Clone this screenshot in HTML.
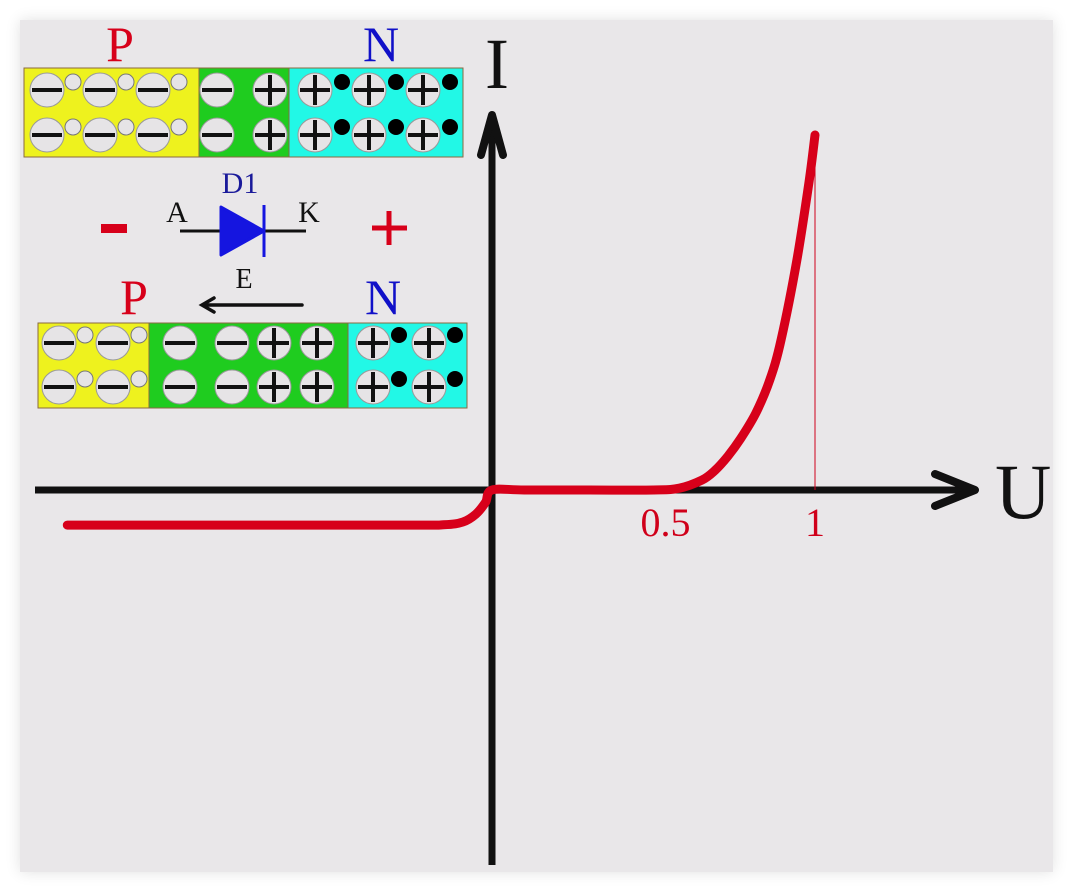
<!DOCTYPE html>
<html><head><meta charset="utf-8"><style>
html,body{margin:0;padding:0;background:#fff;width:1073px;height:892px;overflow:hidden}
#card{position:absolute;left:20px;top:20px;width:1033px;height:852px;background:#e9e7e9;box-shadow:0 0 14px rgba(0,0,0,0.12)}
svg{position:absolute;left:0;top:0}
text{font-family:"Liberation Serif","Times New Roman",serif}
</style></head><body>
<div id="card"></div>
<svg id="s" width="1073" height="892" viewBox="0 0 1073 892">
  <g id="diagram"></g>
  <g id="chart"></g>
</svg>
<script>
// ---- chart data ----
const uValues = [-1.315, -0.3, -0.15, -0.09, -0.05, -0.02, 0, 0.1, 0.3, 0.5, 0.58, 0.65, 0.69, 0.73, 0.77, 0.817, 0.86, 0.895, 0.944, 0.981, 1.0];
const iValues = [-0.099, -0.099, -0.098, -0.09, -0.068, -0.035, 0, 0, 0, 0, 0.005, 0.028, 0.055, 0.095, 0.145, 0.217, 0.31, 0.423, 0.648, 0.865, 1.0];
const xTickValues = [0.5, 1];
const xTickLabels = ["0.5", "1"];

const NS = "http://www.w3.org/2000/svg";
function mk(tag, attrs, parent, txt){
  const e = document.createElementNS(NS, tag);
  for (const k in attrs) e.setAttribute(k, attrs[k]);
  if (txt !== undefined) e.textContent = txt;
  parent.appendChild(e); return e;
}
const xS = u => 492 + u * 323;
const yS = i => 490 - i * 355;

const chart = document.getElementById('chart');
let ax = mk('line', {x1:35, y1:490, x2:965, y2:490, stroke:'#111', 'stroke-width':7}, chart);


let ah = mk('path', {d:'M935,474 L975,490 L935,506', fill:'none', stroke:'#111', 'stroke-width':8, 'stroke-linecap':'round', 'stroke-linejoin':'round'}, chart);


let ay = mk('line', {x1:492, y1:865, x2:492, y2:120, stroke:'#111', 'stroke-width':7}, chart);


let ayh = mk('path', {d:'M481,155 L492,115 L503,155', fill:'none', stroke:'#111', 'stroke-width':8, 'stroke-linecap':'round', 'stroke-linejoin':'round'}, chart);


let tU = mk('text', {x:995, y:518, 'font-size':78, fill:'#111'}, chart, 'U');


let tI = mk('text', {x:485, y:88, 'font-size':72, fill:'#111'}, chart, 'I');


let dl = mk('line', {x1:xS(1), y1:yS(iValues[iValues.length-1]), x2:xS(1), y2:490, stroke:'#d0001a', 'stroke-width':1}, chart);


xTickValues.forEach((v, k) => {
  const t = mk('text', {x:xS(v) + (v===0.5?12:0), y:536, 'font-size':40, fill:'#d0001a', 'text-anchor':'middle'}, chart, xTickLabels[k]);
  
  
});
const pts = uValues.map((u, k) => [xS(u), yS(iValues[k])]);
let d = 'M' + pts[0][0].toFixed(1) + ',' + pts[0][1].toFixed(1);
for (let k = 0; k < pts.length - 1; k++) {
  const p0 = pts[Math.max(0, k-1)], p1 = pts[k], p2 = pts[k+1], p3 = pts[Math.min(pts.length-1, k+2)];
  const c1 = [p1[0] + (p2[0]-p0[0])/6, p1[1] + (p2[1]-p0[1])/6];
  const c2 = [p2[0] - (p3[0]-p1[0])/6, p2[1] - (p3[1]-p1[1])/6];
  d += ' C' + c1.map(v=>v.toFixed(1)).join(',') + ' ' + c2.map(v=>v.toFixed(1)).join(',') + ' ' + p2.map(v=>v.toFixed(1)).join(',');
}
let cv = mk('path', {d:d, fill:'none', stroke:'#d7001a', 'stroke-width':9, 'stroke-linecap':'round', 'stroke-linejoin':'round'}, chart);



// ---- diagram ----
const dg = document.getElementById('diagram');
function rect(x, y, w, h, fill, name){
  const r = mk('rect', {x:x, y:y, width:w, height:h, fill:fill, stroke:'#8a6a40', 'stroke-width':1}, dg);
  
  
}
function ion(cx, cy, plus){
  const g = mk('g', {}, dg);
  
  
  mk('circle', {cx:cx, cy:cy, r:17, fill:'#e6e4e6', stroke:'#999', 'stroke-width':1}, g);
  mk('line', {x1:cx-15, y1:cy, x2:cx+15, y2:cy, stroke:'#111', 'stroke-width':4}, g);
  if (plus) mk('line', {x1:cx, y1:cy-15, x2:cx, y2:cy+15, stroke:'#111', 'stroke-width':4}, g);
}
function hole(cx, cy){
  const c = mk('circle', {cx:cx, cy:cy, r:8, fill:'#e6e4e6', stroke:'#777', 'stroke-width':1}, dg);
  
  
}
function elec(cx, cy){
  const c = mk('circle', {cx:cx, cy:cy, r:8, fill:'#000'}, dg);
  
  
}
function label(x, y, s, col, size, name){
  const t = mk('text', {x:x, y:y, 'font-size':size, fill:col, 'text-anchor':'middle'}, dg, s);
  
  
}
rect(24, 68, 175, 89, '#eef21e', 'top-p-region');
rect(199, 68, 90, 89, '#1fcc1f', 'top-depletion-region');
rect(289, 68, 174, 89, '#22f8e6', 'top-n-region');
[90, 135].forEach(cy => {
  [47, 100, 153].forEach(cx => { ion(cx, cy, false); hole(cx + 26, cy - 8); });
  ion(217, cy, false); ion(270, cy, true);
  [315, 369, 423].forEach(cx => { ion(cx, cy, true); elec(cx + 27, cy - 8); });
});
label(120, 61, 'P', '#d7001a', 50, 'top-p-label');
label(381, 61, 'N', '#1010c8', 50, 'top-n-label');
let w = mk('line', {x1:180, y1:231, x2:306, y2:231, stroke:'#111', 'stroke-width':3}, dg);


let tri = mk('path', {d:'M221,207 L264,231 L221,255 Z', fill:'#1515e0', stroke:'#1515e0', 'stroke-width':3, 'stroke-linejoin':'round'}, dg);


let bar = mk('line', {x1:264, y1:205, x2:264, y2:257, stroke:'#1515e0', 'stroke-width':3}, dg);


label(240, 193, 'D1', '#1a1a9a', 30, 'diode-name-label');
label(177, 222, 'A', '#111', 30, 'anode-label');
label(309, 222, 'K', '#111', 30, 'cathode-label');
let mn = mk('rect', {x:101, y:224, width:26, height:9, fill:'#d7001a'}, dg);


let pl = mk('path', {d:'M372,228 L407,228 M389,211 L389,245', stroke:'#d7001a', 'stroke-width':5}, dg);


label(244, 288, 'E', '#111', 28, 'field-label');
let ar = mk('path', {d:'M302,305 L202,305 M214,298 L202,305 L214,312', fill:'none', stroke:'#111', 'stroke-width':3.5, 'stroke-linecap':'round'}, dg);


label(134, 314, 'P', '#d7001a', 50, 'bottom-p-label');
label(383, 314, 'N', '#1010c8', 50, 'bottom-n-label');
rect(38, 323, 111, 85, '#eef21e', 'bottom-p-region');
rect(149, 323, 199, 85, '#1fcc1f', 'bottom-depletion-region');
rect(348, 323, 119, 85, '#22f8e6', 'bottom-n-region');
[343, 387].forEach(cy => {
  [59, 113].forEach(cx => { ion(cx, cy, false); hole(cx + 26, cy - 8); });
  ion(180, cy, false); ion(232, cy, false); ion(274, cy, true); ion(317, cy, true);
  [373, 429].forEach(cx => { ion(cx, cy, true); elec(cx + 26, cy - 8); });
});
</script>
</body></html>
